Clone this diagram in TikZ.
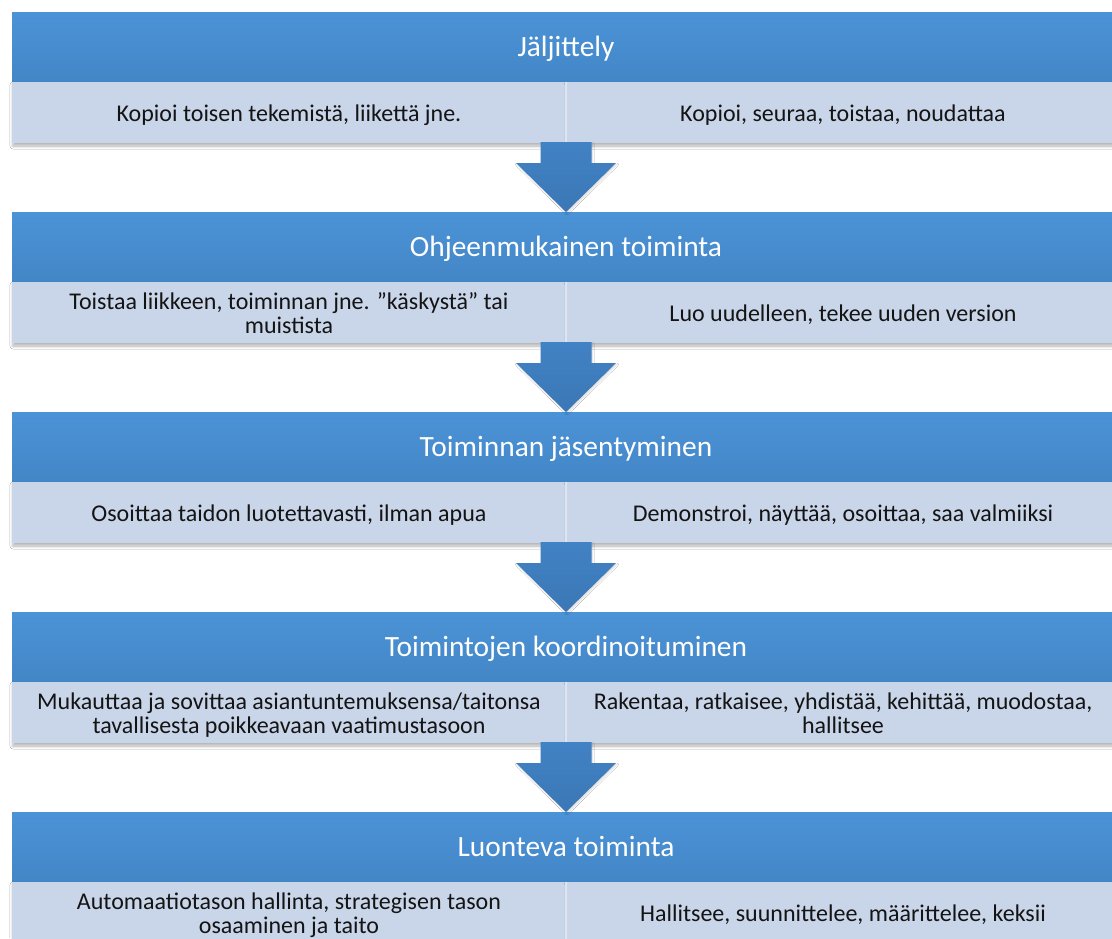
\documentclass[tikz,border=0pt]{standalone}
\usepackage{fontspec}
\setmainfont{Carlito}
\usetikzlibrary{calc,shadows.blur}
\definecolor{hdrtop}{RGB}{75,147,215}
\definecolor{hdrbot}{RGB}{67,134,198}
\definecolor{cellfill}{RGB}{201,213,232}
\definecolor{divline}{RGB}{222,229,241}
\definecolor{arrtop}{RGB}{65,130,196}
\definecolor{arrbot}{RGB}{59,119,182}
\definecolor{txt}{RGB}{20,20,20}
\tikzset{
  hdr/.style={anchor=north west, minimum width=1108pt, minimum height=70pt,
    inner sep=0pt, outer sep=0pt, top color=hdrtop, bottom color=hdrbot,
    text=white, font=\fontsize{29.4}{34}\selectfont},
  cell/.style={anchor=north west, minimum width=554pt, minimum height=61pt,
    inner sep=0pt, outer sep=0pt, fill=cellfill, text=txt,
    font=\fontsize{24}{24}\selectfont,
    blur shadow={shadow xshift=1pt, shadow yshift=-3pt, shadow blur radius=3pt, shadow opacity=30}},
  divider/.style={draw=divline, line width=1.5pt},
  blockarrow/.style={top color=arrtop, bottom color=arrbot,
    blur shadow={shadow xshift=1pt, shadow yshift=-1.5pt, shadow blur radius=1.5pt, shadow opacity=15}}
}
\newcommand\hdrtext[1]{\raisebox{-3pt}[\height][\depth]{\strut #1}}
\newcommand\celltext[1]{\raisebox{-4pt}[\height][\depth]{\begin{tabular}{@{}c@{}}#1\end{tabular}}}
\newcommand\stageblock[4]{%
  \node[hdr] (h#1) at (12,{12+200*(#1-1)}) {\hdrtext{#2}};
  \node[cell] (l#1) at (h#1.south west) {\celltext{#3}};
  \node[cell] (r#1) at (l#1.north east) {\celltext{#4}};
  \draw[divider] (l#1.north east) -- (l#1.south east);
}
\newcommand\stagearrow[2]{%
  \path[blockarrow] ($(l#1.south east)+(-25.5,-1)$) -- ($(l#1.south east)+(-25.5,20)$)
    -- ($(l#1.south east)+(-50,20)$) -- (h#2.north)
    -- ($(l#1.south east)+(50,20)$) -- ($(l#1.south east)+(25.5,20)$)
    -- ($(l#1.south east)+(25.5,-1)$) -- cycle;
}
\begin{document}
\begin{tikzpicture}[x=1pt,y=-1pt]
\useasboundingbox[fill=white] (0,0) rectangle (1112,938);
\stageblock{1}{Jäljittely}{Kopioi toisen tekemistä, liikettä jne.}{Kopioi, seuraa, toistaa, noudattaa}
\stageblock{2}{Ohjeenmukainen toiminta}{Toistaa liikkeen, toiminnan jne. ”käskystä” tai\\muistista}{Luo uudelleen, tekee uuden version}
\stageblock{3}{Toiminnan jäsentyminen}{Osoittaa taidon luotettavasti, ilman apua}{Demonstroi, näyttää, osoittaa, saa valmiiksi}
\stageblock{4}{Toimintojen koordinoituminen}{Mukauttaa ja sovittaa asiantuntemuksensa/taitonsa\\tavallisesta poikkeavaan vaatimustasoon}{Rakentaa, ratkaisee, yhdistää, kehittää, muodostaa,\\hallitsee}
\stageblock{5}{Luonteva toiminta}{Automaatiotason hallinta, strategisen tason\\osaaminen ja taito}{Hallitsee, suunnittelee, määrittelee, keksii}
\stagearrow{1}{2}
\stagearrow{2}{3}
\stagearrow{3}{4}
\stagearrow{4}{5}
\end{tikzpicture}
\end{document}
